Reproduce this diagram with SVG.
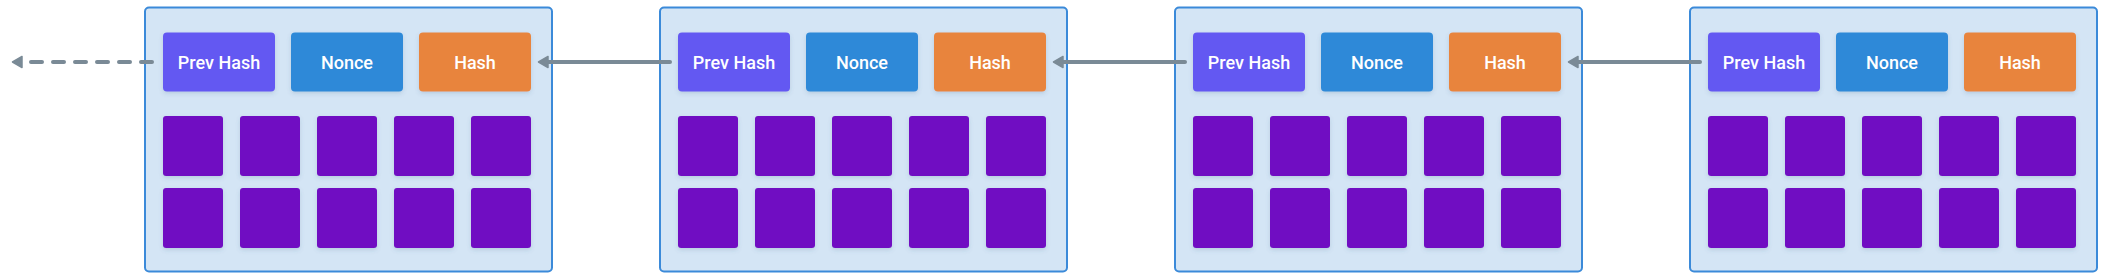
<svg xmlns="http://www.w3.org/2000/svg" width="2105" height="280" viewBox="0 0 2105 280">
<defs>
<filter id="sh" x="-20%" y="-20%" width="140%" height="150%">
<feDropShadow dx="0" dy="2" stdDeviation="2" flood-color="#3a5a80" flood-opacity="0.18"/>
</filter>
<marker id="ah" viewBox="0 0 12 14" refX="1" refY="7" markerWidth="12" markerHeight="14" markerUnits="userSpaceOnUse" orient="auto">
<path d="M1,1.5 L10.5,7 L1,12.5 z" fill="#7a8a96" stroke="#7a8a96" stroke-width="1.5" stroke-linejoin="round"/>
</marker>
</defs>
<style>
.blk{fill:#d4e5f5;stroke:#3b8ad9;stroke-width:2}
.btn{filter:url(#sh)}
.prev{fill:#6459f2}
.nonce{fill:#2e89d8}
.hash{fill:#e8843c}
.sq{fill:#7010c2;filter:url(#sh)}
.lbl{font-family:Roboto,"Liberation Sans",sans-serif;font-weight:500;font-size:18px;fill:#ffffff;text-anchor:middle;dominant-baseline:central}
.con{fill:none;stroke:#7a8a96;stroke-width:4;stroke-linecap:round;marker-end:url(#ah)}
.dash{stroke-dasharray:11 11}
</style>
<g id="block1" transform="translate(145,0)">
<rect class="blk" x="0" y="7.5" width="407" height="264" rx="4"/>
<rect class="btn prev" x="18" y="32.5" width="112" height="59" rx="4"/>
<text class="lbl" x="74" y="62">Prev Hash</text>
<rect class="btn nonce" x="146" y="32.5" width="112" height="59" rx="4"/>
<text class="lbl" x="202" y="62">Nonce</text>
<rect class="btn hash" x="274" y="32.5" width="112" height="59" rx="4"/>
<text class="lbl" x="330" y="62">Hash</text>
<rect class="sq" x="18" y="116" width="60" height="60" rx="3"/>
<rect class="sq" x="95" y="116" width="60" height="60" rx="3"/>
<rect class="sq" x="172" y="116" width="60" height="60" rx="3"/>
<rect class="sq" x="249" y="116" width="60" height="60" rx="3"/>
<rect class="sq" x="326" y="116" width="60" height="60" rx="3"/>
<rect class="sq" x="18" y="188" width="60" height="60" rx="3"/>
<rect class="sq" x="95" y="188" width="60" height="60" rx="3"/>
<rect class="sq" x="172" y="188" width="60" height="60" rx="3"/>
<rect class="sq" x="249" y="188" width="60" height="60" rx="3"/>
<rect class="sq" x="326" y="188" width="60" height="60" rx="3"/>
</g>
<g id="block2" transform="translate(660,0)">
<rect class="blk" x="0" y="7.5" width="407" height="264" rx="4"/>
<rect class="btn prev" x="18" y="32.5" width="112" height="59" rx="4"/>
<text class="lbl" x="74" y="62">Prev Hash</text>
<rect class="btn nonce" x="146" y="32.5" width="112" height="59" rx="4"/>
<text class="lbl" x="202" y="62">Nonce</text>
<rect class="btn hash" x="274" y="32.5" width="112" height="59" rx="4"/>
<text class="lbl" x="330" y="62">Hash</text>
<rect class="sq" x="18" y="116" width="60" height="60" rx="3"/>
<rect class="sq" x="95" y="116" width="60" height="60" rx="3"/>
<rect class="sq" x="172" y="116" width="60" height="60" rx="3"/>
<rect class="sq" x="249" y="116" width="60" height="60" rx="3"/>
<rect class="sq" x="326" y="116" width="60" height="60" rx="3"/>
<rect class="sq" x="18" y="188" width="60" height="60" rx="3"/>
<rect class="sq" x="95" y="188" width="60" height="60" rx="3"/>
<rect class="sq" x="172" y="188" width="60" height="60" rx="3"/>
<rect class="sq" x="249" y="188" width="60" height="60" rx="3"/>
<rect class="sq" x="326" y="188" width="60" height="60" rx="3"/>
</g>
<g id="block3" transform="translate(1175,0)">
<rect class="blk" x="0" y="7.5" width="407" height="264" rx="4"/>
<rect class="btn prev" x="18" y="32.5" width="112" height="59" rx="4"/>
<text class="lbl" x="74" y="62">Prev Hash</text>
<rect class="btn nonce" x="146" y="32.5" width="112" height="59" rx="4"/>
<text class="lbl" x="202" y="62">Nonce</text>
<rect class="btn hash" x="274" y="32.5" width="112" height="59" rx="4"/>
<text class="lbl" x="330" y="62">Hash</text>
<rect class="sq" x="18" y="116" width="60" height="60" rx="3"/>
<rect class="sq" x="95" y="116" width="60" height="60" rx="3"/>
<rect class="sq" x="172" y="116" width="60" height="60" rx="3"/>
<rect class="sq" x="249" y="116" width="60" height="60" rx="3"/>
<rect class="sq" x="326" y="116" width="60" height="60" rx="3"/>
<rect class="sq" x="18" y="188" width="60" height="60" rx="3"/>
<rect class="sq" x="95" y="188" width="60" height="60" rx="3"/>
<rect class="sq" x="172" y="188" width="60" height="60" rx="3"/>
<rect class="sq" x="249" y="188" width="60" height="60" rx="3"/>
<rect class="sq" x="326" y="188" width="60" height="60" rx="3"/>
</g>
<g id="block4" transform="translate(1690,0)">
<rect class="blk" x="0" y="7.5" width="407" height="264" rx="4"/>
<rect class="btn prev" x="18" y="32.5" width="112" height="59" rx="4"/>
<text class="lbl" x="74" y="62">Prev Hash</text>
<rect class="btn nonce" x="146" y="32.5" width="112" height="59" rx="4"/>
<text class="lbl" x="202" y="62">Nonce</text>
<rect class="btn hash" x="274" y="32.5" width="112" height="59" rx="4"/>
<text class="lbl" x="330" y="62">Hash</text>
<rect class="sq" x="18" y="116" width="60" height="60" rx="3"/>
<rect class="sq" x="95" y="116" width="60" height="60" rx="3"/>
<rect class="sq" x="172" y="116" width="60" height="60" rx="3"/>
<rect class="sq" x="249" y="116" width="60" height="60" rx="3"/>
<rect class="sq" x="326" y="116" width="60" height="60" rx="3"/>
<rect class="sq" x="18" y="188" width="60" height="60" rx="3"/>
<rect class="sq" x="95" y="188" width="60" height="60" rx="3"/>
<rect class="sq" x="172" y="188" width="60" height="60" rx="3"/>
<rect class="sq" x="249" y="188" width="60" height="60" rx="3"/>
<rect class="sq" x="326" y="188" width="60" height="60" rx="3"/>
</g>
<g id="connectors">
<path class="con dash" d="M152,62 L22,62"/>
<path class="con" d="M670,62 L548,62"/>
<path class="con" d="M1185,62 L1063,62"/>
<path class="con" d="M1700,62 L1578,62"/>
</g>
</svg>
